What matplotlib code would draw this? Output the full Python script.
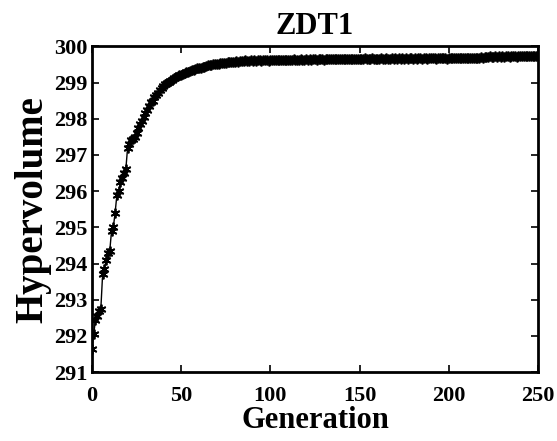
import numpy as np
import matplotlib.pyplot as plt

plt.rcParams['font.family'] = 'Liberation Serif'
plt.rcParams['font.weight'] = 'bold'

# hypervolume per generation
hv_early = [291.65, 292.05, 292.45, 292.55, 292.70, 292.75, 293.70, 293.85, 294.10, 294.30,
            294.35, 294.90, 295.00, 295.40, 295.90, 296.00, 296.25, 296.35, 296.50, 296.60,
            297.20, 297.30, 297.40, 297.45, 297.50, 297.60, 297.75, 297.85, 297.95, 298.05,
            298.15, 298.25, 298.35, 298.45, 298.50, 298.60, 298.65, 298.72, 298.78, 298.85,
            298.90, 298.95, 298.98, 299.02, 299.05, 299.08, 299.12, 299.15, 299.18, 299.20,
            299.22]
hv_mid = [299.24, 299.27, 299.28, 299.30, 299.32, 299.34, 299.35, 299.37, 299.39, 299.40,
          299.41, 299.43, 299.44, 299.45, 299.47, 299.48, 299.49, 299.50, 299.51, 299.52,
          299.52, 299.53, 299.54, 299.55, 299.55, 299.56, 299.57, 299.57, 299.58, 299.58,
          299.59, 299.58, 299.60, 299.59, 299.60, 299.61, 299.59, 299.60, 299.61, 299.60,
          299.61, 299.60, 299.62, 299.61, 299.60, 299.62, 299.61, 299.62, 299.60, 299.62]
hv_late = [299.61, 299.62, 299.63, 299.61, 299.62, 299.63, 299.62, 299.61, 299.63, 299.62,
           299.63, 299.62, 299.64, 299.63, 299.62, 299.63, 299.64, 299.63, 299.62, 299.64,
           299.63, 299.64, 299.63, 299.65, 299.64, 299.63, 299.64, 299.65, 299.64, 299.63,
           299.64, 299.65, 299.64, 299.65, 299.66, 299.64, 299.65, 299.64, 299.66, 299.65,
           299.65, 299.64, 299.66, 299.65, 299.66, 299.65, 299.64, 299.66, 299.65, 299.66,
           299.65, 299.66, 299.67, 299.65, 299.66, 299.65, 299.67, 299.66, 299.65, 299.66,
           299.66, 299.67, 299.65, 299.66, 299.67, 299.66, 299.65, 299.67, 299.66, 299.67,
           299.66, 299.67, 299.66, 299.68, 299.66, 299.67, 299.66, 299.67, 299.68, 299.66,
           299.67, 299.66, 299.68, 299.67, 299.66, 299.68, 299.67, 299.66, 299.67, 299.68,
           299.67, 299.68, 299.66, 299.67, 299.68, 299.67, 299.68, 299.67, 299.66, 299.68,
           299.67, 299.68, 299.67, 299.69, 299.67, 299.68, 299.67, 299.68, 299.69, 299.67,
           299.68, 299.67, 299.69, 299.68, 299.67, 299.69, 299.68, 299.70, 299.69, 299.70,
           299.71, 299.70, 299.72, 299.71, 299.70, 299.72, 299.71, 299.72, 299.70, 299.72,
           299.71, 299.72, 299.73, 299.71, 299.72, 299.73, 299.72, 299.71, 299.73, 299.72,
           299.73, 299.72, 299.74, 299.73, 299.72, 299.74, 299.73, 299.74, 299.72, 299.74]

hv = hv_early + hv_mid + hv_late
gen = np.arange(len(hv))

xticks = [0, 50, 100, 150, 200, 250]
yticks = [291, 292, 293, 294, 295, 296, 297, 298, 299, 300]

fig = plt.figure(figsize=(5.57, 4.41), dpi=100)
ax = fig.add_axes([0.165, 0.156, 0.801, 0.739])

ax.plot(gen, hv, color='k', lw=1, marker=(6, 2, 0), ms=7, mew=1.3)

ax.set_xlim(0, 250)
ax.set_ylim(291, 300)
ax.set_xticks(xticks)
ax.set_yticks(yticks)
ax.tick_params(direction='in', top=True, right=True, length=5, width=1.2,
               labelsize=16)
ax.tick_params(axis='x', pad=10)
ax.tick_params(axis='y', pad=3)
for s in ax.spines.values():
    s.set_linewidth(2)

ax.set_title('ZDT1', fontsize=22, fontweight='bold', pad=9)
ax.set_xlabel('Generation', fontsize=22, fontweight='bold', labelpad=0)
ax.set_ylabel('Hypervolume', fontsize=28, fontweight='bold', labelpad=2)

fig.savefig('out.png', dpi=100)
